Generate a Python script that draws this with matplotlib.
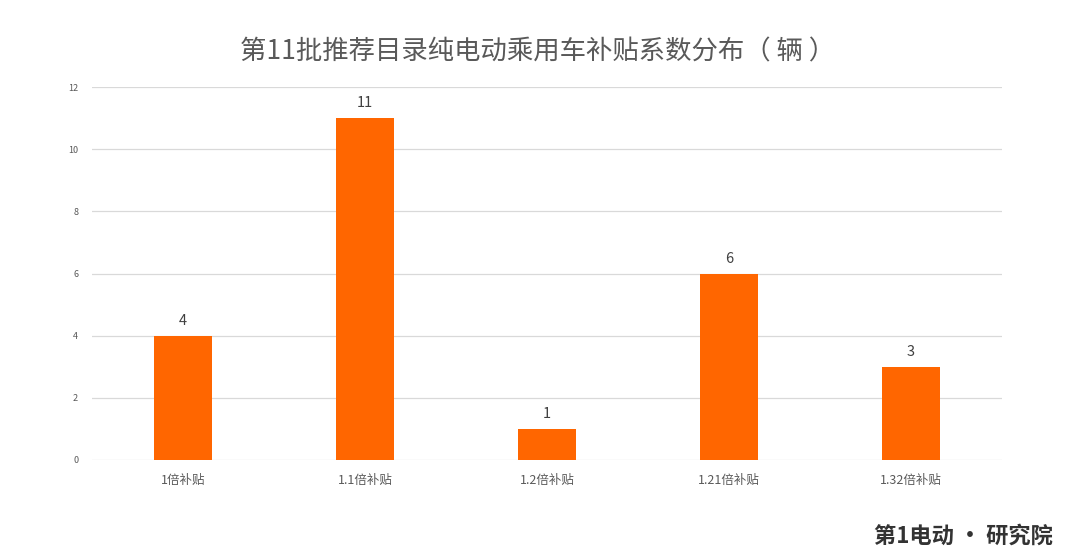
import matplotlib
matplotlib.use("Agg")
import matplotlib.pyplot as plt

plt.rcParams['font.family'] = ['Noto Sans CJK SC', 'DejaVu Sans']

categories = ["1倍补贴", "1.1倍补贴", "1.2倍补贴", "1.21倍补贴", "1.32倍补贴"]
values = [4, 11, 1, 6, 3]
yticks = [0, 2, 4, 6, 8, 10, 12]
title = "第11批推荐目录纯电动乘用车补贴系数分布（ 辆 ）"

fig = plt.figure(figsize=(10.8, 5.48), dpi=100)
ax = fig.add_axes([0.0852, 0.1606, 0.8426, 0.6806])

x = range(len(categories))
bars = ax.bar(x, values, width=0.315, color="#FF6600", zorder=3)
for xi, v in zip(x, values):
    ax.text(xi, v + 0.25, str(v), ha="center", va="bottom", fontsize=10.5, color="#404040")

ax.set_xlim(-0.5, len(categories) - 0.5)
ax.set_ylim(0, 12)
ax.set_yticks(yticks)
ax.set_yticklabels([str(t) for t in yticks], fontsize=6.5, color="#595959")
ax.set_xticks(list(x))
ax.set_xticklabels(categories, fontsize=9, color="#595959")
ax.tick_params(axis="both", length=0, pad=10)
ax.tick_params(axis="x", pad=10)
ax.grid(axis="y", color="#D9D9D9", linewidth=0.9, zorder=0)
for s in ax.spines.values():
    s.set_visible(False)

fig.text(0.498, 0.905, title, ha="center", va="center", fontsize=19, color="#595959")
fig.text(0.975, 0.0, "第1电动 • 研究院", ha="right", va="bottom", fontsize=16, color="#333333", fontweight="bold")

fig.savefig("out.png", dpi=100)
